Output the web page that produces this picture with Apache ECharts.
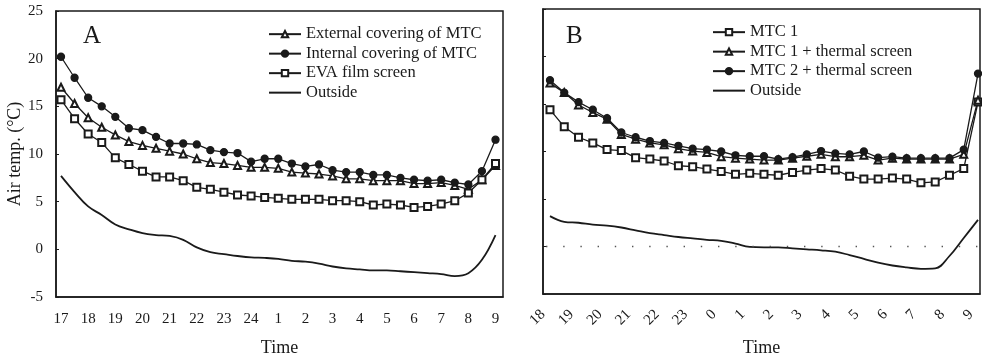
<!DOCTYPE html>
<html>

<head>
  <meta charset="utf-8">
  <script src="https://cdn.jsdelivr.net/npm/echarts@6/dist/echarts.min.js"></script>
</head>

<body style="margin:0;background:#fff;">
  <div id="main" style="width: 982px;height:358px;"></div>
  <script type="text/javascript">
    // time of day, half hourly (hours past midnight keep counting: 25 = 1h, 33 = 9h)
    var timesA = [17, 17.5, 18, 18.5, 19, 19.5, 20, 20.5, 21, 21.5, 22, 22.5, 23, 23.5, 24, 24.5,
      25, 25.5, 26, 26.5, 27, 27.5, 28, 28.5, 29, 29.5, 30, 30.5, 31, 31.5, 32, 32.5, 33];
    var timesB = [18, 18.5, 19, 19.5, 20, 20.5, 21, 21.5, 22, 22.5, 23, 23.5, 24, 24.5,
      25, 25.5, 26, 26.5, 27, 27.5, 28, 28.5, 29, 29.5, 30, 30.5, 31, 31.5, 32, 32.5, 33];
    var ticksA = [17, 18, 19, 20, 21, 22, 23, 24, 25, 26, 27, 28, 29, 30, 31, 32, 33];
    var ticksB = [18, 19, 20, 21, 22, 23, 24, 25, 26, 27, 28, 29, 30, 31, 32, 33];

    // panel A
    var externalA = [17.0, 15.3, 13.8, 12.8, 12.0, 11.3, 10.9, 10.6, 10.3, 10.0, 9.5, 9.1, 9.0, 8.8, 8.6, 8.6,
      8.5, 8.1, 8.0, 7.9, 7.7, 7.4, 7.4, 7.2, 7.2, 7.2, 6.9, 6.9, 7.0, 6.7, 6.3, 7.3, 8.8];
    var internalA = [20.2, 18.0, 15.9, 15.0, 13.9, 12.7, 12.5, 11.8, 11.1, 11.1, 11.0, 10.4, 10.2, 10.1, 9.2, 9.5,
      9.5, 9.0, 8.7, 8.9, 8.3, 8.1, 8.1, 7.8, 7.8, 7.5, 7.3, 7.2, 7.3, 7.0, 6.8, 8.2, 11.5];
    var evaA = [15.7, 13.7, 12.1, 11.2, 9.6, 8.9, 8.2, 7.6, 7.6, 7.2, 6.5, 6.3, 6.0, 5.7, 5.6, 5.45,
      5.35, 5.25, 5.25, 5.25, 5.1, 5.1, 5.0, 4.65, 4.75, 4.65, 4.4, 4.5, 4.75, 5.1, 5.9, 7.3, 9.0];
    var outsideA = [7.7, 6.0, 4.5, 3.6, 2.6, 2.1, 1.7, 1.5, 1.4, 1.0, 0.2, -0.3, -0.5, -0.7, -0.85, -0.9,
      -1.0, -1.2, -1.3, -1.5, -1.8, -2.0, -2.1, -2.2, -2.2, -2.3, -2.4, -2.5, -2.6, -2.8, -2.5, -1.1, 1.5];

    // panel B
    var mtc1B = [14.4, 12.6, 11.5, 10.9, 10.2, 10.1, 9.35, 9.2, 9.0, 8.5, 8.4, 8.15, 7.9, 7.6, 7.7, 7.6,
      7.5, 7.8, 8.05, 8.2, 8.05, 7.4, 7.1, 7.1, 7.2, 7.1, 6.7, 6.8, 7.5, 8.2, 15.2];
    var mtc1tsB = [17.2, 16.2, 14.9, 14.1, 13.4, 11.8, 11.3, 10.9, 10.7, 10.3, 10.05, 9.9, 9.45, 9.3, 9.2, 9.1,
      9.1, 9.3, 9.5, 9.7, 9.45, 9.45, 9.6, 9.1, 9.3, 9.2, 9.2, 9.2, 9.2, 9.7, 15.4];
    var mtc2tsB = [17.5, 16.2, 15.2, 14.4, 13.5, 12.0, 11.5, 11.1, 10.9, 10.6, 10.3, 10.2, 10.0, 9.6, 9.5, 9.5,
      9.2, 9.4, 9.7, 10.05, 9.8, 9.7, 10.0, 9.35, 9.45, 9.3, 9.3, 9.3, 9.3, 10.2, 18.2];
    var outsideB = [3.2, 2.6, 2.5, 2.3, 2.2, 2.0, 1.7, 1.4, 1.2, 1.0, 0.85, 0.7, 0.6, 0.3, -0.05, -0.1,
      -0.1, -0.2, -0.3, -0.4, -0.55, -0.9, -1.3, -1.7, -2.0, -2.2, -2.35, -2.3, -1.0, 0.9, 2.8];

    var FONT = 'Liberation Serif';
    var INK = '#1a1a1a';

    function pairs(xs, ys) {
      var out = [];
      for (var i = 0; i < xs.length; i++) out.push([xs[i], ys[i]]);
      return out;
    }

    function markSeries(name, idx, xs, ys, symbol) {
      return {
        name: name,
        type: 'line',
        xAxisIndex: idx,
        yAxisIndex: idx,
        data: pairs(xs, ys),
        symbol: symbol,
        symbolSize: 7,
        showAllSymbol: true,
        itemStyle: { color: INK, borderColor: INK, borderWidth: 1.3 },
        lineStyle: { color: INK, width: 1.3 },
        emphasis: { disabled: true },
        z: 3
      };
    }

    function outsideSeries(idx, xs, ys) {
      return {
        name: 'Outside',
        type: 'line',
        xAxisIndex: idx,
        yAxisIndex: idx,
        data: pairs(xs, ys),
        symbol: 'none',
        smooth: 0.4,
        lineStyle: { color: INK, width: 1.8 },
        itemStyle: { color: INK },
        emphasis: { disabled: true }
      };
    }

    function xAxisFor(idx, min, max, ticks, rot, fmt) {
      return {
        type: 'value',
        gridIndex: idx,
        min: min,
        max: max,
        name: 'Time',
        nameLocation: 'middle',
        nameGap: idx == 0 ? 42 : 45,
        nameTextStyle: { fontFamily: FONT, fontSize: 18, color: INK },
        splitLine: { show: false },
        axisLine: { onZero: false, lineStyle: { color: INK, width: 1.5 } },
        axisTick: { show: false, customValues: ticks },
        axisLabel: {
          customValues: ticks,
          rotate: rot,
          margin: rot ? 11 : 15,
          padding: rot ? [0, 10, 0, 0] : 0,
          fontFamily: FONT,
          fontSize: 15,
          color: INK,
          formatter: fmt
        }
      };
    }

    function yAxisFor(idx, labels) {
      return {
        type: 'value',
        gridIndex: idx,
        min: -5,
        max: 25,
        interval: 5,
        name: labels ? 'Air temp. (\u00B0C)' : '',
        nameLocation: 'middle',
        nameGap: 31,
        nameTextStyle: { fontFamily: FONT, fontSize: 18, color: INK },
        splitLine: { show: false },
        axisLine: { onZero: false, lineStyle: { color: INK, width: 1.5 } },
        axisTick: { show: true, inside: true, length: 3, lineStyle: { color: INK } },
        axisLabel: { show: labels, margin: 13, fontFamily: FONT, fontSize: 15, color: INK }
      };
    }

    var legendBase = {
      orient: 'vertical',
      padding: 0,
      itemWidth: 32,
      itemHeight: 8,
      itemGap: 1.2,
      textStyle: { fontFamily: FONT, fontSize: 16.5, color: INK, lineHeight: 18.3 },
      selectedMode: false
    };
    // plain line icon for the outside temperature
    var outsideItem = { name: 'Outside', itemStyle: { opacity: 0 } };

    var chart = echarts.init(document.getElementById('main'));
    var seriesB = [
      markSeries('MTC 1', 1, timesB, mtc1B, 'emptyRect'),
      markSeries('MTC 1 + thermal screen', 1, timesB, mtc1tsB, 'emptyTriangle'),
      markSeries('MTC 2 + thermal screen', 1, timesB, mtc2tsB, 'circle'),
      outsideSeries(1, timesB, outsideB)
    ];
    // dotted zero line in panel B
    seriesB[3].markLine = {
      silent: true,
      symbol: 'none',
      label: { show: false },
      lineStyle: { color: '#555', width: 1.4, type: [1.4, 15.8], dashOffset: -3 },
      data: [{ yAxis: 0 }]
    };

    var option = {
      backgroundColor: '#fff',
      animation: false,
      title: [
        { text: 'A', left: 83, top: 24, padding: 0, textStyle: { fontFamily: FONT, fontSize: 25, fontWeight: 'normal', color: INK } },
        { text: 'B', left: 566, top: 24, padding: 0, textStyle: { fontFamily: FONT, fontSize: 25, fontWeight: 'normal', color: INK } }
      ],
      legend: [
        Object.assign({}, legendBase, {
          left: 268, top: 25,
          data: ['External covering of MTC', 'Internal covering of MTC', 'EVA film screen', outsideItem]
        }),
        Object.assign({}, legendBase, {
          left: 712, top: 23,
          data: ['MTC 1', 'MTC 1 + thermal screen', 'MTC 2 + thermal screen', outsideItem]
        })
      ],
      grid: [
        { left: 56, top: 11, right: 479, bottom: 61, outerBoundsMode: 'none', show: true, borderColor: INK, borderWidth: 1.5 },
        { left: 543, top: 9, right: 2, bottom: 64, outerBoundsMode: 'none', show: true, borderColor: INK, borderWidth: 1.5 }
      ],
      xAxis: [
        xAxisFor(0, 16.816, 33.276, ticksA, 0, function (v) { return String(v <= 24 ? v : v - 24); }),
        xAxisFor(1, 17.755, 33.07, ticksB, 45, function (v) { return String(v < 24 ? v : v - 24); })
      ],
      yAxis: [yAxisFor(0, true), yAxisFor(1, false)],
      series: [
        markSeries('External covering of MTC', 0, timesA, externalA, 'emptyTriangle'),
        markSeries('Internal covering of MTC', 0, timesA, internalA, 'circle'),
        markSeries('EVA film screen', 0, timesA, evaA, 'emptyRect'),
        outsideSeries(0, timesA, outsideA)
      ].concat(seriesB)
    };
    chart.setOption(option);
  </script>
</body>

</html>
